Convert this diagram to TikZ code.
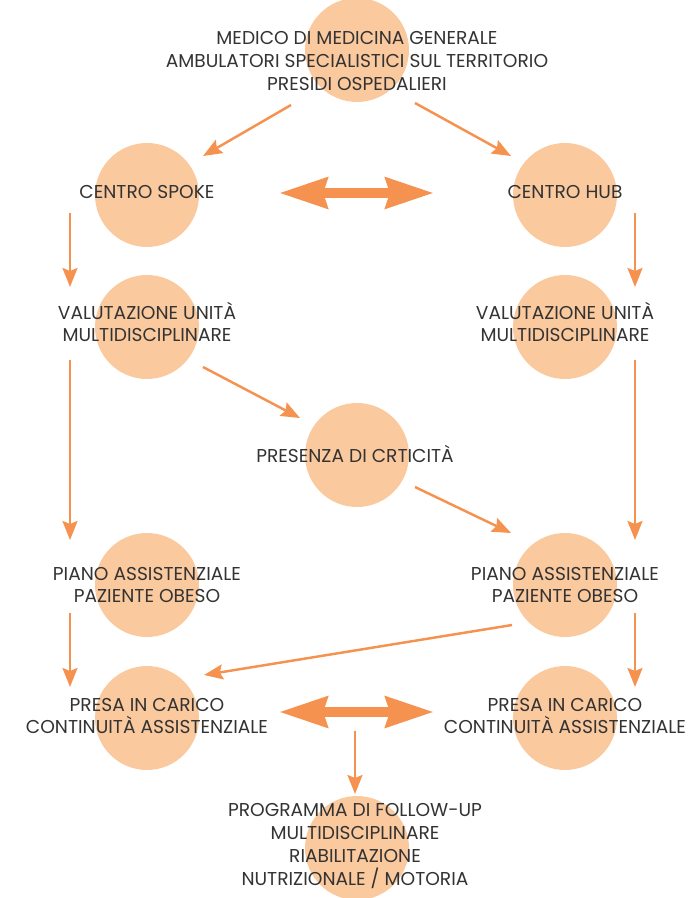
\documentclass[tikz,border=0pt]{standalone}
\usepackage{fontspec}
\setmainfont{Poppins}
\usetikzlibrary{arrows.meta}

\definecolor{peach}{HTML}{FBC99E}
\definecolor{tangerine}{HTML}{F5924F}
\definecolor{ink}{HTML}{333333}

\begin{document}
\begin{tikzpicture}%
	[x=0.02cm, y=-0.02cm,
	bubble/.style={circle, fill=peach, minimum size=2.08cm, inner sep=0pt},
	caption/.style={text=ink, align=center, font=\fontsize{10.6}{13}\selectfont},
	link/.style={color=tangerine, line width=1.4pt, -{Stealth[length=0.38cm, width=0.3cm, inset=0.06cm]}},
	twoway/.style={color=tangerine, line width=0.2cm, {Stealth[length=0.96cm, width=0.6cm, inset=0.08cm]}-{Stealth[length=0.96cm, width=0.6cm, inset=0.08cm]}}]
%
\useasboundingbox (0,0) rectangle (687,898);
%%
%% Circles
%%
\node[bubble] (b-top)   at (357,50)  {};
\node[bubble] (b-spoke) at (147,195) {};
\node[bubble] (b-hub)   at (565,195) {};
\node[bubble] (b-vuml)  at (147,327) {};
\node[bubble] (b-vumr)  at (565,327) {};
\node[bubble] (b-crit)  at (357,455) {};
\node[bubble] (b-pial)  at (147,585) {};
\node[bubble] (b-piar)  at (565,585) {};
\node[bubble] (b-presl) at (147,718) {};
\node[bubble] (b-presr) at (565,718) {};
\node[bubble] (b-prog)  at (357,848) {};
%%
%% Texts
%%
\node[caption] (top)   at (357,61)  {MEDICO DI MEDICINA GENERALE\\AMBULATORI SPECIALISTICI SUL TERRITORIO\\PRESIDI OSPEDALIERI};
\node[caption] (spoke) at (147,192) {CENTRO SPOKE};
\node[caption] (hub)   at (565,192) {CENTRO HUB};
\node[caption] (vuml)  at (147,322) {VALUTAZIONE UNITÀ\\MULTIDISCIPLINARE};
\node[caption] (vumr)  at (565,322) {VALUTAZIONE UNITÀ\\MULTIDISCIPLINARE};
\node[caption] (crit)  at (355,454) {PRESENZA DI CRTICITÀ};
\node[caption] (pial)  at (147,585) {PIANO ASSISTENZIALE\\PAZIENTE OBESO};
\node[caption] (piar)  at (565,585) {PIANO ASSISTENZIALE\\PAZIENTE OBESO};
\node[caption] (presl) at (147,716) {PRESA IN CARICO\\CONTINUITÀ ASSISTENZIALE};
\node[caption] (presr) at (565,716) {PRESA IN CARICO\\CONTINUITÀ ASSISTENZIALE};
\node[caption] (prog)  at (355,846) {PROGRAMMA DI FOLLOW-UP\\MULTIDISCIPLINARE\\RIABILITAZIONE\\NUTRIZIONALE / MOTORIA};
%%
%% Arrow ends
%%
\coordinate (top-l)   at (291,105);
\coordinate (top-r)   at (415,103);
\coordinate (spoke-i) at (203,156);
\coordinate (hub-i)   at (511,156);
\coordinate (spoke-o) at (70,213);
\coordinate (hub-o)   at (635,213);
\coordinate (vuml-i)  at (70,287);
\coordinate (vumr-i)  at (635,287);
\coordinate (vuml-o)  at (70,360);
\coordinate (vumr-o)  at (635,360);
\coordinate (vuml-c)  at (203,367);
\coordinate (crit-i)  at (300,418);
\coordinate (crit-o)  at (415,487);
\coordinate (piar-c)  at (511,533);
\coordinate (pial-i)  at (70,540);
\coordinate (piar-i)  at (635,540);
\coordinate (pial-o)  at (70,613);
\coordinate (piar-o)  at (635,613);
\coordinate (piar-x)  at (512,625);
\coordinate (presl-x) at (204,675);
\coordinate (presl-i) at (70,687);
\coordinate (presr-i) at (635,687);
\coordinate (mid-l)   at (279,193);
\coordinate (mid-r)   at (434,193);
\coordinate (low-l)   at (279,712);
\coordinate (low-r)   at (434,712);
\coordinate (low-o)   at (355,731);
\coordinate (prog-i)  at (355,794);
%%
%% Arrows
%%
\draw[link] (top-l) -- (spoke-i);
\draw[link] (top-r) -- (hub-i);
\draw[twoway] (mid-l) -- (mid-r);
\draw[link] (spoke-o) -- (vuml-i);
\draw[link] (hub-o) -- (vumr-i);
\draw[link] (vuml-o) -- (pial-i);
\draw[link] (vumr-o) -- (piar-i);
\draw[link] (vuml-c) -- (crit-i);
\draw[link] (crit-o) -- (piar-c);
\draw[link] (pial-o) -- (presl-i);
\draw[link] (piar-o) -- (presr-i);
\draw[link] (piar-x) -- (presl-x);
\draw[twoway] (low-l) -- (low-r);
\draw[link] (low-o) -- (prog-i);
%%
\end{tikzpicture}
\end{document}
